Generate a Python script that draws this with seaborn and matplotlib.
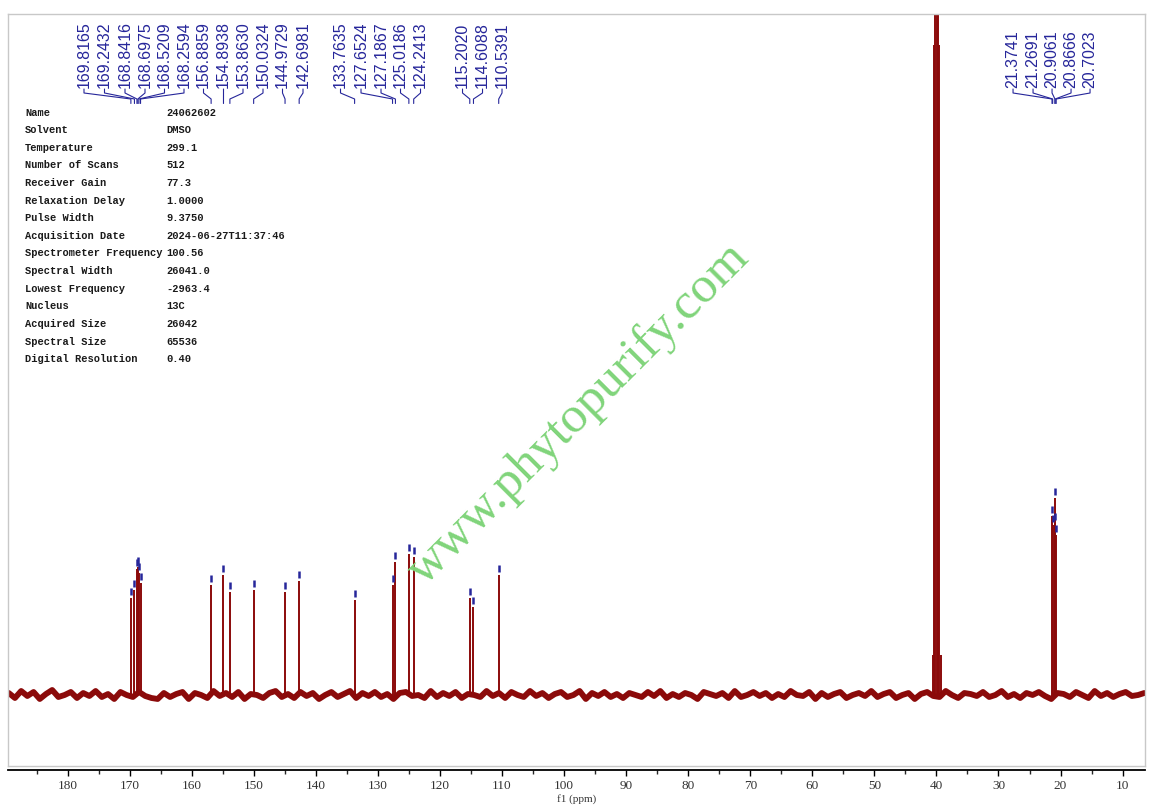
import numpy as np
import matplotlib
matplotlib.use("Agg")
import matplotlib.pyplot as plt
import pandas as pd
import seaborn as sns

# 13C peak list (ppm) and peak heights (arbitrary units, baseline = 0)
peak_ppm = [169.8165, 169.2432, 168.8416, 168.6975, 168.5209, 168.2594,
            156.8859, 154.8938, 153.8630, 150.0324, 144.9729, 142.6981,
            133.7635, 127.6524, 127.1867, 125.0186, 124.2413,
            115.2020, 114.6088, 110.5391,
            21.3741, 21.2691, 20.9061, 20.8666, 20.7023]
peak_height = [97, 105, 126, 128, 122, 112,
               110, 120, 103, 105, 103, 114,
               95, 110, 133, 141, 138,
               97, 88, 120,
               179, 170, 197, 172, 160]

# DMSO-d6 solvent septet (goes off scale)
solvent_ppm = [39.32, 39.53, 39.74, 39.95, 40.16, 40.37, 40.58]
solvent_height = [40, 650, 2600, 3000, 2600, 650, 40]

# baseline noise, one reading per ppm from 189.5 down to 6.5
noise_ppm = np.arange(189.5, 6.0, -1.0)
noise = [2, -3, 4, -1, 3, -4, 1, 5, -2, 0, 3, -3, 2, -1, 4, -2, 1, -4, 3, 0,
         -2, 3, -1, -3, -4, 2, -2, 1, 3, -4, 2, 0, -3, 4, -1, 2, -2, 3, -4, 1,
         0, -3, 2, 4, -2, 1, -3, 3, -1, 2, -4, 0, 3, -2, 1, 4, -3, 2, -1, 3,
         -2, 1, -4, 2, 3, -1, 0, -3, 4, -2, 2, -1, 3, -3, 1, 0, -2, 4, -1, 2,
         -3, 3, 0, -2, 4, -1, 2, -3, 1, 3, -2, 0, 4, -4, 2, -1, 3, -2, 1, -3,
         2, 0, -2, 3, -1, 4, -3, 1, -2, 2, 0, -4, 3, 1, -1, 2, -3, 4, -2, 0,
         3, -1, 2, -3, 1, -2, 4, 0, -1, 3, -4, 2, -2, 1, 3, -3, 0, 2, -1, 4,
         -2, 1, 3, -3, 0, 2, -4, 1, 3, -1, -2, 4, 0, -3, 2, 1, -1, 3, -2, 0,
         4, -2, 1, -3, 2, 0, 3, -1, -4, 2, 1, -2, 3, 0, -3, 4, -1, 2, -2, 1,
         3, -1, 0, 2]

# acquisition parameters
param_names = ["Name", "Solvent", "Temperature", "Number of Scans", "Receiver Gain",
               "Relaxation Delay", "Pulse Width", "Acquisition Date",
               "Spectrometer Frequency", "Spectral Width", "Lowest Frequency",
               "Nucleus", "Acquired Size", "Spectral Size", "Digital Resolution"]
param_values = ["24062602", "DMSO", "299.1", "512", "77.3", "1.0000", "9.3750",
                "2024-06-27T11:37:46", "100.56", "26041.0", "-2963.4", "13C",
                "26042", "65536", "0.40"]

# label anchor positions (pixels along the axis), as laid out by the NMR software
label_px = [84, 104.5, 125, 145, 164.5, 184, 203.5, 223.5, 243, 263, 282.5, 303,
            340.5, 361, 381, 400.5, 420.5, 462.5, 482.5, 502,
            1013, 1033, 1052, 1071, 1090]

sns.set_theme(style="white")
plt.rcParams["font.family"] = ["Liberation Sans", "DejaVu Sans"]

W, H = 1154, 811
red = "#8b0a0a"
blue = "#26269a"
xlim = (189.62, 6.39)


def px_to_ppm(px):
    return 180 - (px - 67.7) / 6.205


fig = plt.figure(figsize=(W / 100, H / 100), dpi=100)
ax = fig.add_axes([8 / W, (H - 766) / H, 1137 / W, 752 / H])

df = pd.DataFrame({"ppm": noise_ppm, "intensity": noise})
sns.lineplot(data=df, x="ppm", y="intensity", ax=ax, color=red, lw=4.2,
             estimator=None, sort=False)
ax.vlines(peak_ppm, 0, peak_height, color=red, lw=1.4)
ax.vlines(solvent_ppm, 0, solvent_height, color=red, lw=1.4)

# peak pick markers
tops = np.array(peak_height)
ax.vlines(peak_ppm, tops + 3, tops + 10, color=blue, lw=1.8)

# peak labels with connectors
for lp, p in zip(label_px, peak_ppm):
    lx = px_to_ppm(lp)
    ax.text(lx, 607.5, f"{p:.4f}", rotation=90, ha="center", va="bottom",
            fontsize=11.5, color=blue, family="Liberation Sans")
    ax.plot([lx, lx, p, p], [606, 602, 596, 591.5], color=blue, lw=0.8)

ax.set_xlim(*xlim)
ax.set_ylim(-71, 681)
ax.set_xticks([])
ax.set_yticks([])
ax.set_xlabel("")
ax.set_ylabel("")
for s in ax.spines.values():
    s.set_visible(True)
    s.set_color("#c8c8c8")
    s.set_linewidth(1.0)

# parameter table
for i, (n, v) in enumerate(zip(param_names, param_values)):
    y = 1 - (112.7 + 17.6 * i) / H
    fig.text(25 / W, y, n, ha="left", va="center", fontsize=7.5,
             family="Liberation Mono", color="#1a1a1a", fontweight="bold")
    fig.text(166.7 / W, y, v, ha="left", va="center", fontsize=7.5,
             family="Liberation Mono", color="#1a1a1a", fontweight="bold")

# separate ppm axis below the frame
axx = fig.add_axes([8 / W, (H - 770) / H, 1137 / W, 0])
axx.patch.set_visible(False)
axx.set_xlim(*xlim)
axx.set_yticks([])
for k in ["top", "left", "right"]:
    axx.spines[k].set_visible(False)
axx.spines["bottom"].set_color("black")
axx.spines["bottom"].set_linewidth(1.3)
axx.set_xticks(np.arange(10, 190, 10))
axx.set_xticks(np.arange(15, 190, 10), minor=True)
axx.tick_params(axis="x", which="major", bottom=True, direction="out", length=4.5,
                width=1.0, pad=2.5, labelsize=9.5, colors="black")
axx.tick_params(axis="x", which="minor", bottom=True, direction="out", length=3,
                width=1.0)
for t in axx.get_xticklabels():
    t.set_family("Liberation Serif")
    t.set_color("#333333")
axx.set_xlabel("f1 (ppm)", fontsize=8, family="Liberation Serif", labelpad=1.5,
               color="#333333")

# watermark
fig.text(0.5087, 0.4784, "www.phytopurify.com", rotation=45, rotation_mode="anchor",
         ha="center", va="baseline", fontsize=37, family="Liberation Serif",
         color="#80d47a", zorder=10)

fig.savefig("out.png", dpi=100)
